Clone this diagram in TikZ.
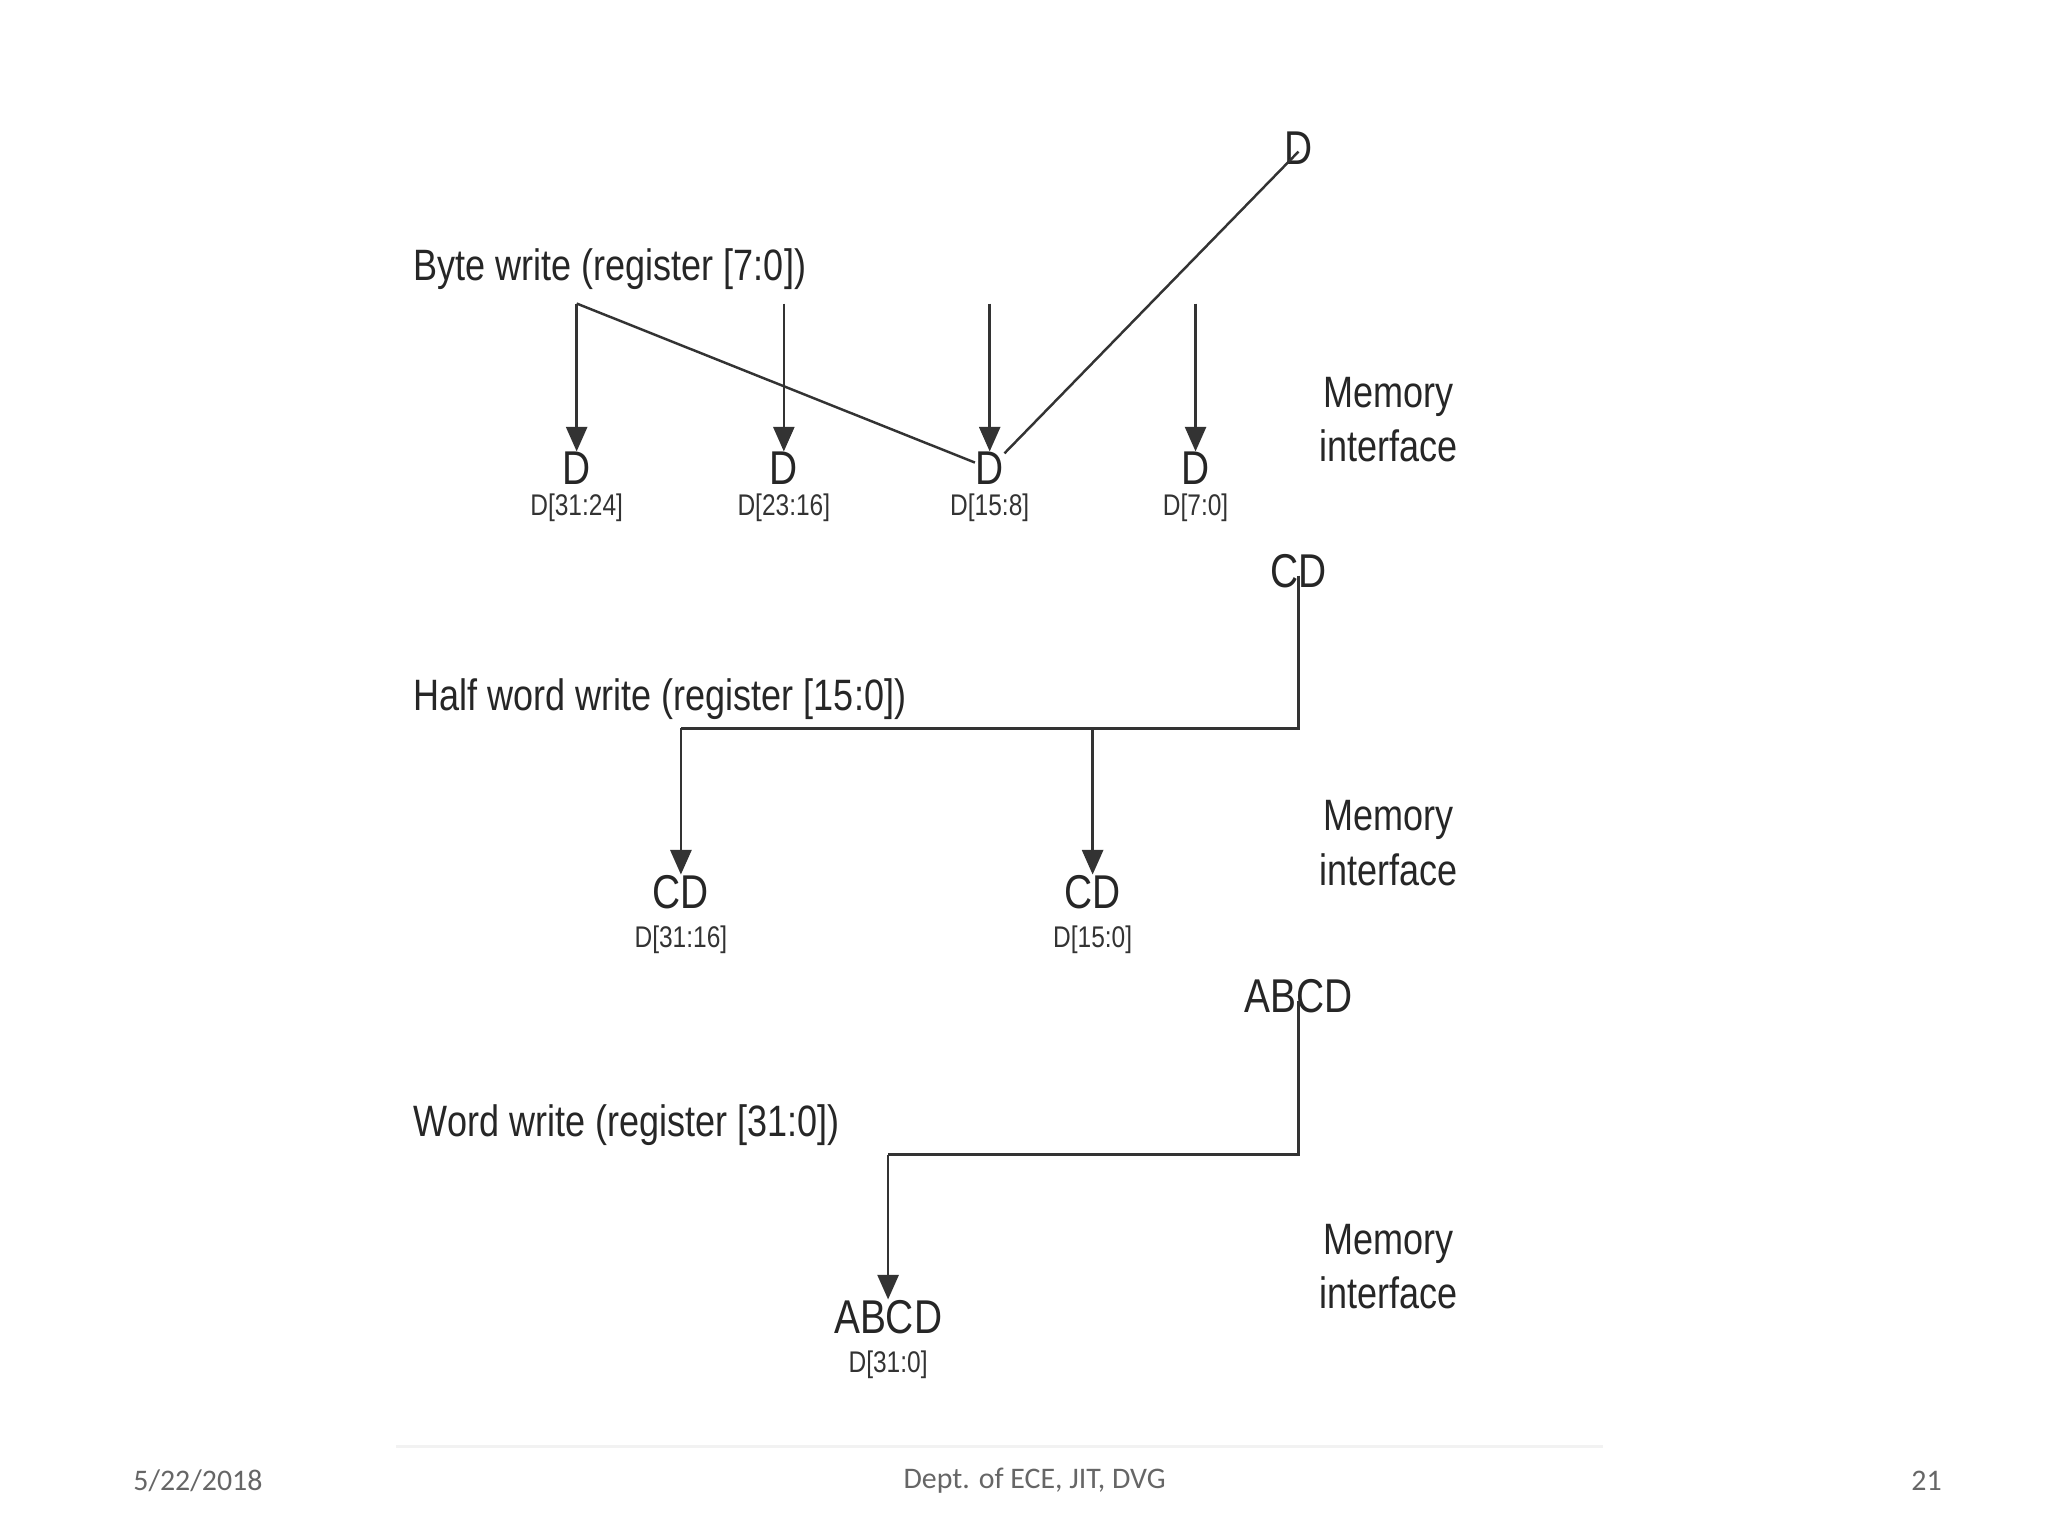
\documentclass[tikz,border=0pt]{standalone}
\usepackage{fontspec}
\setmainfont{Liberation Sans}[FakeStretch=0.82]
\newfontfamily\foot{Carlito}
\usetikzlibrary{arrows.meta}
\begin{document}
\begin{tikzpicture}[x=0.013196cm,y=-0.013196cm,
  lbl/.style={inner sep=0pt,font=\fontsize{13.5}{14}\selectfont,text=black!85},
  ttl/.style={inner sep=0pt,anchor=west,font=\fontsize{12.5}{14}\selectfont,text=black!85},
  sub/.style={inner sep=0pt,font=\fontsize{8.5}{10}\selectfont,text=black!80},
  mem/.style={inner sep=0pt,align=center,font=\fontsize{12.5}{15.5}\selectfont,text=black!85},
  wire/.style={line width=0.7pt,black!80},
  arr/.style={wire,-{Triangle[length=7pt,width=6pt]}},
  ft/.style={inner sep=0pt,font=\foot\fontsize{8.5}{10}\selectfont,text=black!60}]
\useasboundingbox (0,0) rectangle (1552,1164);
% Byte
\node[lbl] (d0) at (984,112) {D};
\node[ttl] (t1) at (313,204) {Byte write (register [7:0])};
\coordinate (c1) at (984,230);
\foreach \n/\x/\s in {a/437/D[31:24],b/594/D[23:16],c/750/D[15:8],d/906/D[7:0]}{
  \node[lbl] (\n1) at (\x,355) {D};
  \node[sub] (\n1s) at (\x,385) {\s};
  \coordinate (\n1t) at (\x,230);
  \draw[arr] (\n1t) -- (\n1.north);
}
\draw[wire] (d0.south) ++(0,-10) -- (c1) -- (a1t);
\node[mem] (m1) at (1052,318) {Memory\\interface};
% Half word
\node[lbl] (d2) at (984,433) {CD};
\node[ttl] (t2) at (313,530) {Half word write (register [15:0])};
\coordinate (c2) at (984,552);
\foreach \n/\x/\s in {a/516/D[31:16],b/828/D[15:0]}{
  \node[lbl] (\n2) at (\x,676) {CD};
  \node[sub] (\n2s) at (\x,712) {\s};
  \coordinate (\n2t) at (\x,552);
  \draw[arr] (\n2t) -- (\n2.north);
}
\draw[wire] (d2.south) ++(0,-10) -- (c2) -- (a2t);
\node[mem] (m2) at (1052,639) {Memory\\interface};
% Word
\node[lbl] (d3) at (984,755) {ABCD};
\node[ttl] (t3) at (313,853) {Word write (register [31:0])};
\coordinate (c3) at (984,875);
\coordinate (a3t) at (673,875);
\node[lbl] (a3) at (673,998) {ABCD};
\node[sub] (a3s) at (673,1034) {D[31:0]};
\draw[wire] (d3.south) ++(0,-10) -- (c3) -- (a3t);
\draw[arr] (a3t) -- (a3.north);
\node[mem] (m3) at (1052,960) {Memory\\interface};
% footer
\draw[black!5,line width=1pt] (300,1096) -- (1215,1096);
\node[ft] (f1) at (150,1122) {5/22/2018};
\node[ft] (f2) at (784,1122) {Dept. of ECE, JIT, DVG};
\node[ft] (f3) at (1460,1122) {21};
\end{tikzpicture}
\end{document}
